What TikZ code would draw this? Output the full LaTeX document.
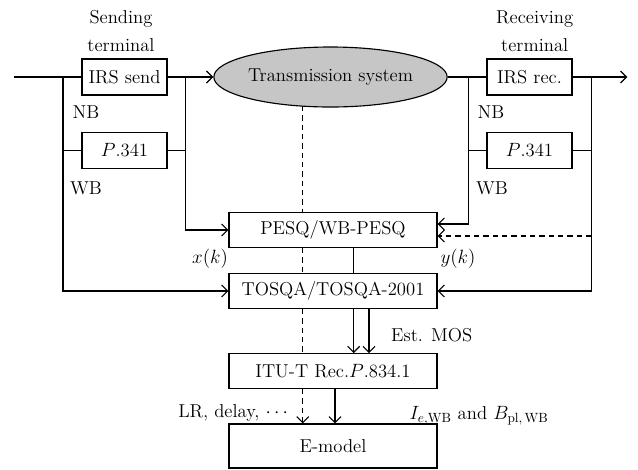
\documentclass[tikz,border=0pt]{standalone}
\usetikzlibrary{shapes.geometric,arrows.meta}
\tikzset{
	blk/.style={draw, minimum width=63.75pt, minimum height=27pt, inner sep=0pt},
	wideblk/.style={draw, minimum width=156pt, minimum height=26pt, inner sep=0pt},
	sig/.style={-{Straight Barb[length=4.5pt,width=9pt]}},
	dsh/.style={dash pattern=on 4pt off 3pt},
}
\begin{document}
\begin{tikzpicture}[x=0.75pt,y=-0.75pt,line width=0.85pt,font=\fontsize{14}{21}\selectfont]
	\useasboundingbox (0,0) rectangle (638,469);
	% terminals
	\node[blk] (irssend) at (124.5,77) {IRS send};
	\node[blk] (p341s) at (124.5,150.5) {$P$.341};
	\node[blk] (irsrec) at (529.5,77) {IRS rec.};
	\node[blk] (p341r) at (529.5,150.5) {$P$.341};
	\node[draw, ellipse, fill=gray!45, minimum width=161pt, minimum height=45pt, inner sep=0pt] (trans) at (330.5,77) {Transmission system};
	\node[align=center] (sendlbl) at (121,31.5) {Sending\\terminal};
	\node[align=center] (reclbl) at (534.7,31.5) {Receiving\\terminal};
	\node (nbs) at (86,112) {NB};
	\node (wbs) at (86,188) {WB};
	\node (nbr) at (491,112) {NB};
	\node (wbr) at (492,188) {WB};
	% measurement chain
	\node[wideblk] (pesq) at (333,230) {PESQ/WB-PESQ};
	\node[wideblk] (tosqa) at (333,291) {TOSQA/TOSQA-2001};
	\node[wideblk] (itu) at (333,371) {ITU-T Rec.$P$.834.1};
	\node[wideblk, minimum height=33pt] (emodel) at (333,446) {E-model};
	\node (xk) at (210,259) {$x(k)$};
	\node (yk) at (458,259) {$y(k)$};
	\node (mos) at (431.7,335) {Est. MOS};
	\node[anchor=east] (lr) at (293,413) {LR, delay, $\cdots$};
	\node (iewb) at (479,416) {$I_{e,\mathrm{WB}}$ and $B_{\mathrm{pl,\,WB}}$};
	% send side
	\coordinate (in) at (14,77);
	\coordinate (sj) at (63,77);
	\coordinate (sr) at (185.7,77);
	\draw (in) -- (irssend);
	\draw[sig] (irssend) -- (trans);
	\draw (sj) |- (p341s.west);
	\draw[sig] (sj) |- (tosqa.west);
	\draw (p341s.east) -| (sr);
	\draw[sig] (sr) |- (pesq.west);
	% receive side
	\coordinate (rj) at (468.7,77);
	\coordinate (rr) at (591.3,77);
	\coordinate (out) at (627.3,77);
	\coordinate (fb) at (591.3,236);
	\draw (trans) -- (irsrec);
	\draw[sig] (irsrec) -- (out);
	\draw (rj) |- (p341r.west);
	\draw[sig] (rj) |- ([yshift=4.5pt]pesq.east);
	\draw (p341r.east) -| (rr);
	\draw[sig] (rr) |- (tosqa.east);
	\draw[sig,dsh] (fb) -- (fb -| pesq.east);
	% dashed path
	\coordinate (dtop) at (302.7,106);
	\draw[dsh] (dtop) -- (dtop |- pesq.north);
	\draw[dsh] (dtop |- pesq.south) -- (dtop |- tosqa.north);
	\draw[dsh] (dtop |- tosqa.south) -- (dtop |- itu.north);
	\draw[sig,dsh] (dtop |- itu.south) -- (dtop |- emodel.north);
	% solid links
	\draw ([xshift=15.2pt]pesq.south) -- ([xshift=15.2pt]tosqa.north);
	\draw[sig] ([xshift=15.5pt]tosqa.south) -- ([xshift=15.5pt]itu.north);
	\draw[sig] ([xshift=27pt]tosqa.south) -- ([xshift=27pt]itu.north);
	\draw[sig] ([xshift=1.5pt]itu.south) -- ([xshift=1.5pt]emodel.north);
\end{tikzpicture}
\end{document}
